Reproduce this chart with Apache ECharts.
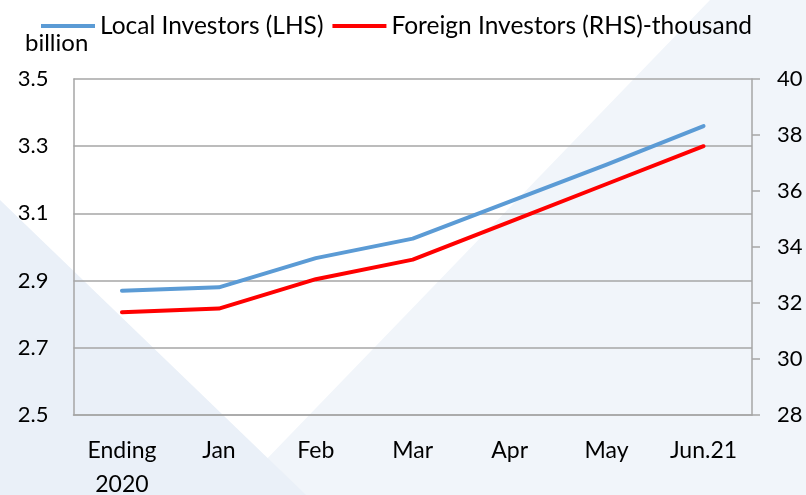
<!DOCTYPE html>
<html>
<head>
<meta charset="utf-8">
<script src="https://cdn.jsdelivr.net/npm/echarts@6/dist/echarts.min.js"></script>
<style>
  html, body { margin: 0; padding: 0; background: #ffffff; }
  #chart { width: 806px; height: 495px; }
</style>
</head>
<body>
<div id="chart"></div>
<script>
// categories and values
const months = ["Ending\n2020", "Jan", "Feb", "Mar", "Apr", "May", "Jun.21"];
const localInvestors = [2.87, 2.88, 2.967, 3.025, 3.135, 3.245, 3.36];
const foreignInvestors = [31.67, 31.8, 32.85, 33.55, 34.9, 36.25, 37.6];

const font = "Lato";
const gray = "#a6a6a6";

const myChart = echarts.init(document.getElementById("chart"));

const option = {
  animation: false,
  textStyle: { fontFamily: font },
  graphic: [
    // light background shapes
    {
      type: "polygon", z: -10, silent: true,
      shape: { points: [[710, 0], [806, 0], [806, 495], [232, 495]] },
      style: { fill: "#f1f5fa" }
    },
    {
      type: "polygon", z: -9, silent: true,
      shape: { points: [[0, 200], [0, 495], [306, 495]] },
      style: { fill: "#eaf0f8" }
    },
    {
      type: "text", left: 25, top: 31,
      style: { text: "billion", font: "24px Lato", fill: "#000" }
    }
  ],
  legend: {
    left: 36,
    top: 8,
    icon: "rect",
    itemWidth: 54,
    itemHeight: 4,
    itemGap: 9,
    textStyle: { fontSize: 24.5, color: "#000", fontFamily: font, lineHeight: 26 },
    data: ["Local Investors (LHS)", "Foreign Investors (RHS)-thousand"]
  },
  grid: { left: 73.5, right: 54, top: 79, bottom: 80, outerBoundsMode: "none" },
  xAxis: {
    type: "category",
    data: months,
    boundaryGap: true,
    axisTick: { show: false },
    axisLine: { lineStyle: { color: gray, width: 1.5 } },
    axisLabel: { color: "#000", fontSize: 23, lineHeight: 34, margin: 19, fontFamily: font }
  },
  yAxis: [
    {
      type: "value",
      min: 2.5, max: 3.5, interval: 0.2,
      axisLine: { show: true, lineStyle: { color: gray, width: 1.5 } },
      axisTick: { show: false },
      splitLine: { lineStyle: { color: gray, width: 1.5 } },
      axisLabel: {
        color: "#000", fontSize: 22, margin: 25, fontFamily: font,
        formatter: (v) => v.toFixed(1)
      }
    },
    {
      type: "value",
      min: 28, max: 40, interval: 2,
      position: "right",
      axisLine: { show: true, lineStyle: { color: gray, width: 1.5 } },
      axisTick: { show: true, length: 8, lineStyle: { color: gray, width: 1.5 } },
      splitLine: { show: false },
      axisLabel: { color: "#000", fontSize: 22, margin: 25, fontFamily: font }
    }
  ],
  series: [
    {
      name: "Local Investors (LHS)",
      type: "line",
      yAxisIndex: 0,
      data: localInvestors,
      symbol: "none",
      itemStyle: { color: "#5b9bd5" },
      lineStyle: { color: "#5b9bd5", width: 4, cap: "round", join: "round" }
    },
    {
      name: "Foreign Investors (RHS)-thousand",
      type: "line",
      yAxisIndex: 1,
      data: foreignInvestors,
      symbol: "none",
      itemStyle: { color: "#ff0000" },
      lineStyle: { color: "#ff0000", width: 4, cap: "round", join: "round" }
    }
  ]
};

myChart.setOption(option);
</script>
</body>
</html>
